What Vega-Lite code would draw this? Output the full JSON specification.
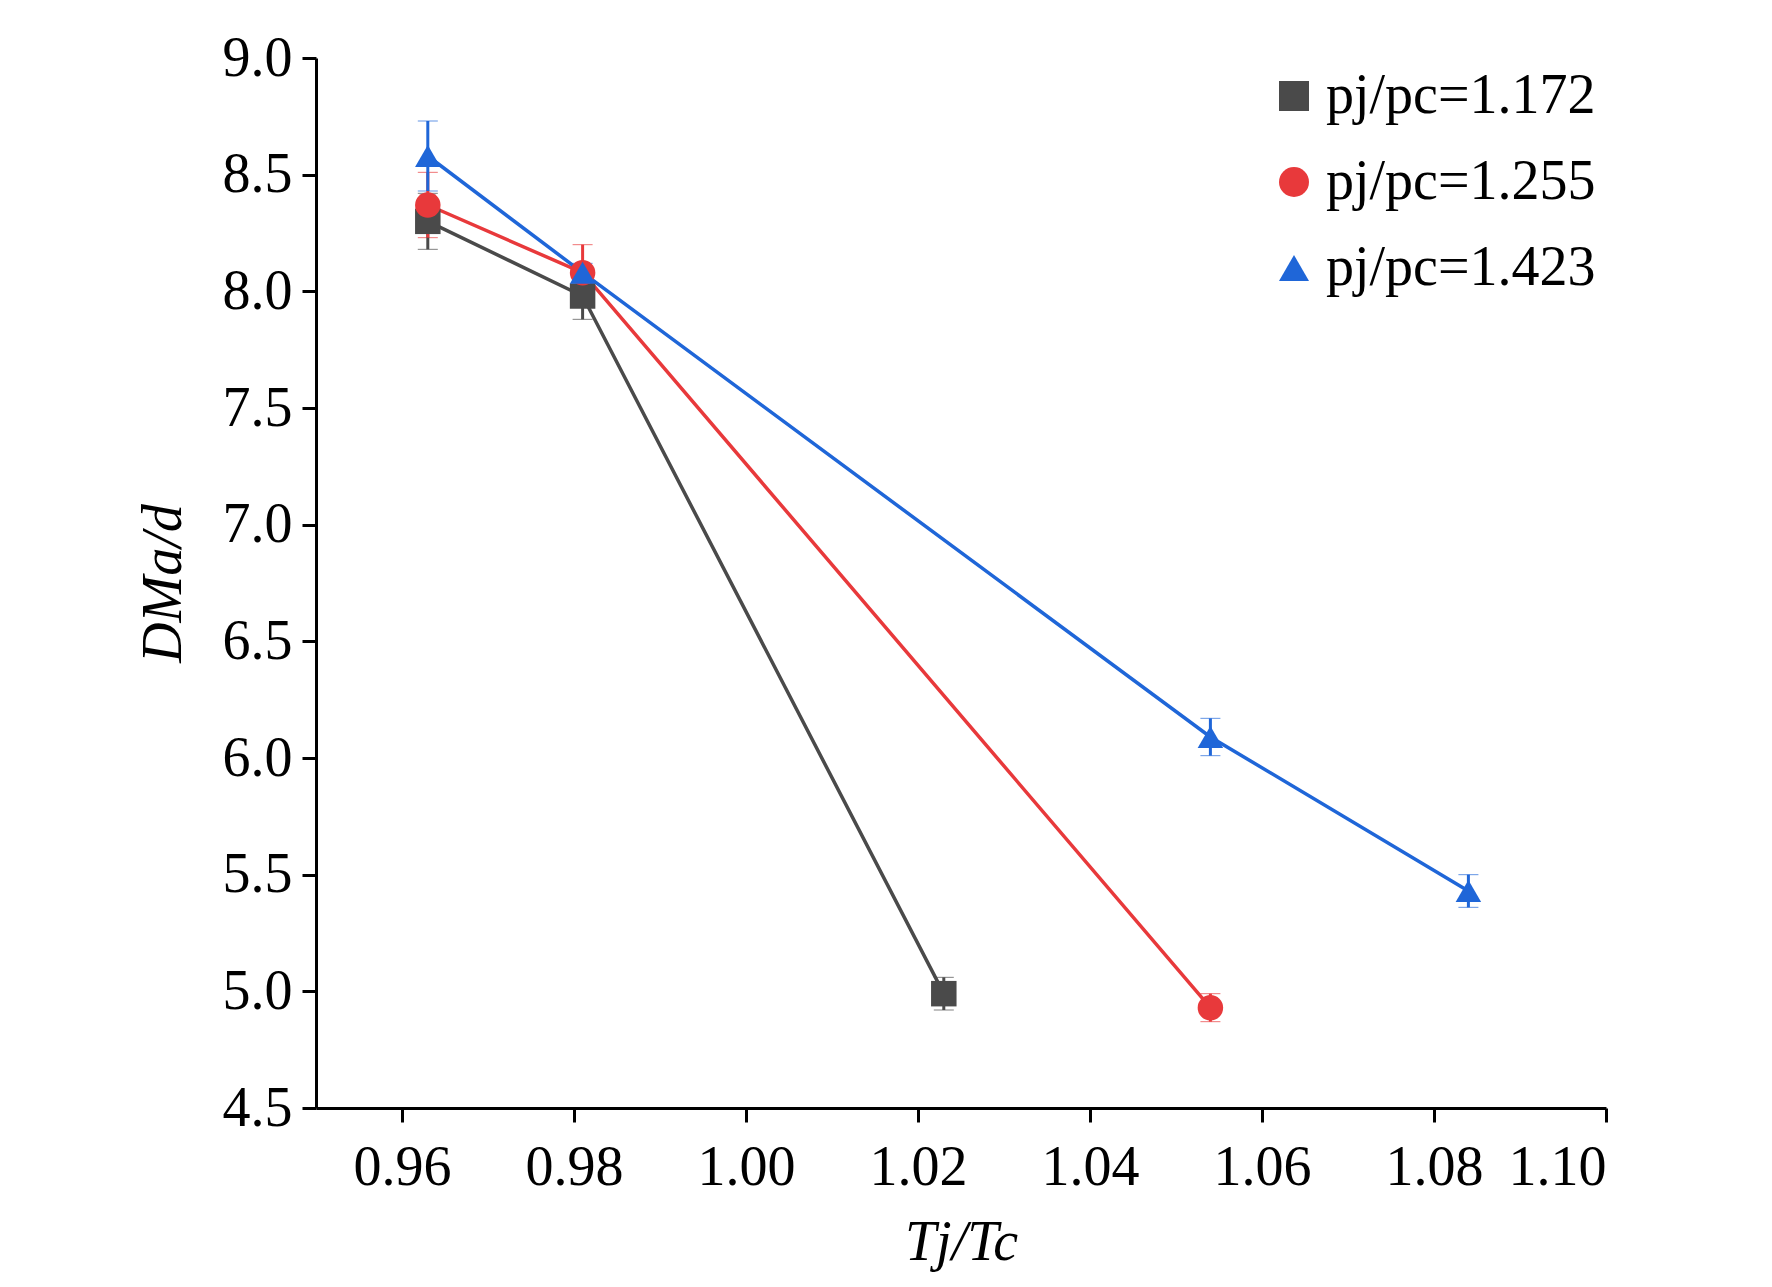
{
  "$schema": "https://vega.github.io/schema/vega-lite/v6.json",
  "width": 1290,
  "height": 1050,
  "padding": {"left": 135, "top": 30, "right": 60, "bottom": 10},
  "background": "white",
  "config": {
    "view": {"stroke": null},
    "font": "Liberation Serif",
    "axis": {
      "labelFont": "Liberation Serif", "titleFont": "Liberation Serif",
      "labelFontSize": 56, "titleFontSize": 56, "titleFontWeight": "normal", "titleFontStyle": "italic",
      "labelColor": "black", "titleColor": "black",
      "domainColor": "black", "domainWidth": 3, "tickColor": "black", "tickWidth": 3, "tickSize": 14,
      "grid": false
    }
  },
  "data": {"values": [
    {"s": "pj/pc=1.172", "x": 0.963, "y": 8.30, "e": 0.12},
    {"s": "pj/pc=1.172", "x": 0.981, "y": 7.98, "e": 0.10},
    {"s": "pj/pc=1.172", "x": 1.023, "y": 4.99, "e": 0.07},
    {"s": "pj/pc=1.255", "x": 0.963, "y": 8.37, "e": 0.14},
    {"s": "pj/pc=1.255", "x": 0.981, "y": 8.08, "e": 0.12},
    {"s": "pj/pc=1.255", "x": 1.054, "y": 4.93, "e": 0.06},
    {"s": "pj/pc=1.423", "x": 0.963, "y": 8.58, "e": 0.15},
    {"s": "pj/pc=1.423", "x": 0.981, "y": 8.08, "e": 0.04},
    {"s": "pj/pc=1.423", "x": 1.054, "y": 6.09, "e": 0.08},
    {"s": "pj/pc=1.423", "x": 1.084, "y": 5.43, "e": 0.07}
  ]},
  "encoding": {
    "x": {"field": "x", "type": "quantitative",
      "scale": {"domain": [0.95, 1.10], "nice": false, "zero": false},
      "axis": {"values": [0.96, 0.98, 1.0, 1.02, 1.04, 1.06, 1.08, 1.1], "format": ".2f", "title": "Tj/Tc", "labelPadding": 18, "titlePadding": 20}},
    "color": {"field": "s", "type": "nominal",
      "scale": {"domain": ["pj/pc=1.172", "pj/pc=1.255", "pj/pc=1.423"], "range": ["#4a4a4a", "#e8393b", "#1f66d8"]},
      "legend": {"orient": "top-right", "title": null, "labelFontSize": 56, "labelFont": "Liberation Serif", "labelColor": "black", "labelLimit": 0, "symbolSize": 900, "symbolStrokeWidth": 0, "rowPadding": 30, "offset": 10}},
    "shape": {"field": "s", "type": "nominal",
      "scale": {"domain": ["pj/pc=1.172", "pj/pc=1.255", "pj/pc=1.423"], "range": ["square", "circle", "triangle-up"]},
      "legend": null}
  },
  "layer": [
    {"mark": {"type": "line", "strokeWidth": 3.5},
     "encoding": {"y": {"field": "y", "type": "quantitative", "title": "DMa/d",
       "scale": {"domain": [4.5, 9.0], "nice": false, "zero": false},
       "axis": {"values": [4.5, 5.0, 5.5, 6.0, 6.5, 7.0, 7.5, 8.0, 8.5, 9.0], "format": ".1f", "title": "DMa/d", "labelPadding": 10, "titlePadding": 30}}}},
    {"mark": {"type": "errorbar", "ticks": {"size": 20, "strokeWidth": 3}, "rule": {"strokeWidth": 3}},
     "encoding": {"y": {"field": "y", "type": "quantitative", "title": "DMa/d"}, "yError": {"field": "e"}}},
    {"mark": {"type": "point", "filled": true, "size": 650, "opacity": 1},
     "encoding": {"y": {"field": "y", "type": "quantitative", "title": "DMa/d"}}}
  ]
}
